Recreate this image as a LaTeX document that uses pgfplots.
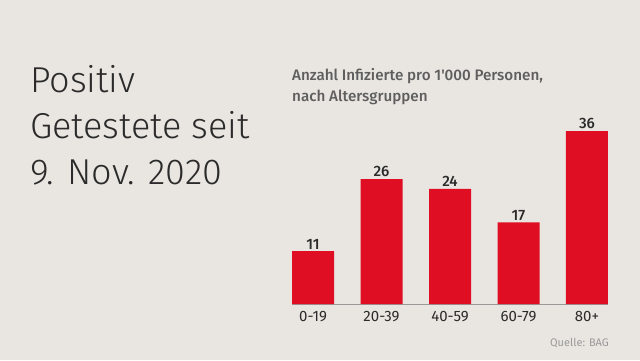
\documentclass[border=0pt]{standalone}
\usepackage{pgfplots}
\pgfplotsset{compat=1.18}
\usepackage{fontspec}
\setmainfont{Fira Sans}
\newfontfamily\lightfont{Fira Sans Light}
\newfontfamily\medfont{Fira Sans Medium}
\definecolor{bg}{HTML}{E9E6E1}
\definecolor{srfred}{HTML}{E00E22}
\definecolor{txt}{HTML}{2B2B2B}
\definecolor{sub}{HTML}{5E5E5E}
\definecolor{src}{HTML}{9A9A9A}
\begin{document}
\begin{tikzpicture}[x=1bp,y=1bp]
\fill[bg] (0,0) rectangle (640,360);
\node[anchor=base west,inner sep=0,font=\lightfont\fontsize{36bp}{40bp}\selectfont,text=txt] at (30,268) {Positiv};
\node[anchor=base west,inner sep=0,font=\lightfont\fontsize{36bp}{40bp}\selectfont,text=txt] at (30,222) {Getestete seit};
\node[anchor=base west,inner sep=0,font=\lightfont\fontsize{36bp}{40bp}\selectfont,text=txt] at (30,176) {9. Nov. 2020};
\node[anchor=base west,inner sep=0,font=\medfont\fontsize{15.2bp}{17bp}\selectfont,text=sub] at (292,280) {Anzahl Infizierte pro 1'000 Personen,};
\node[anchor=base west,inner sep=0,font=\medfont\fontsize{15.2bp}{17bp}\selectfont,text=sub] at (292,259) {nach Altersgruppen};
\node[anchor=base east,inner sep=0,font=\fontsize{11bp}{13bp}\selectfont,text=src] at (609,14) {Quelle: BAG};
\begin{axis}[
  at={(292bp,56bp)}, anchor=south west,
  scale only axis, width=316bp, height=192bp,
  xmin=-0.307, xmax=4.307, ymin=0, ymax=40,
  axis x line*=bottom, axis y line=none,
  x axis line style={draw=gray!80,line width=0.8bp,-},
  xtick={0,1,2,3,4}, xticklabels={0-19,20-39,40-59,60-79,80+},
  major tick length=0pt,
  xticklabel style={font=\fontsize{15bp}{17bp}\selectfont,text=txt,yshift=-4bp},
  ybar, bar width=42bp, bar shift=0pt,
  nodes near coords,
  every node near coord/.append style={font=\medfont\fontsize{15bp}{17bp}\selectfont,text=txt,inner sep=2bp,yshift=0bp},
  /pgf/number format/assume math mode=true,
]
\addplot[fill=srfred,draw=none] coordinates {(0,11) (1,26) (2,24) (3,17) (4,36)};
\end{axis}
\end{tikzpicture}
\end{document}
